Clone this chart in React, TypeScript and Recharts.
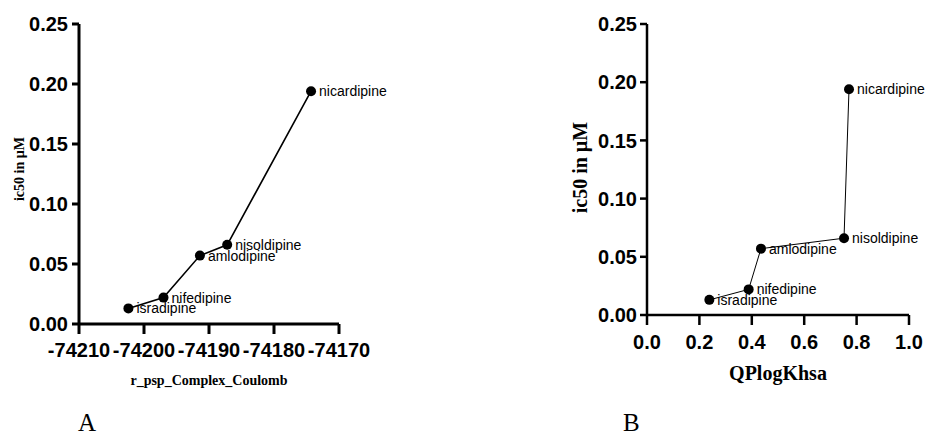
import React from 'react';
import { ScatterChart, Scatter, XAxis, YAxis, LabelList } from 'recharts';

// drug names, shared by both panels
const drugs = ['isradipine', 'nifedipine', 'amlodipine', 'nisoldipine', 'nicardipine'];
const ic50 = [0.013, 0.022, 0.057, 0.066, 0.194];
const coulomb = [-74202.4, -74197.0, -74191.4, -74187.2, -74174.3];
const qplogkhsa = [0.238, 0.388, 0.435, 0.752, 0.771];

const yTicks = [0, 0.05, 0.1, 0.15, 0.2, 0.25];
const coulombTicks = [-74210, -74200, -74190, -74180, -74170];
const khsaTicks = [0, 0.2, 0.4, 0.6, 0.8, 1.0];

const dataA = drugs.map((name, i) => ({ name, x: coulomb[i], y: ic50[i] }));
const dataB = drugs.map((name, i) => ({ name, x: qplogkhsa[i], y: ic50[i] }));

const tickFont = {
  fontFamily: '"Liberation Sans", Arial, sans-serif',
  fontSize: 20,
  fontWeight: 700,
  fill: '#000',
};
const serif = '"Liberation Serif", "Times New Roman", serif';

// name to the right of each dot, vertically centred on it
const pointLabel = (props: any) => {
  const { viewBox, value } = props;
  const cx = viewBox.x + viewBox.width / 2;
  const cy = viewBox.y + viewBox.height / 2;
  return (
    <text
      x={cx + 8}
      y={cy}
      dy="0.36em"
      fontFamily='"Liberation Sans", Arial, sans-serif'
      fontSize={14}
      fill="#000"
    >
      {value}
    </text>
  );
};

const dot = (props: any) => <circle cx={props.cx} cy={props.cy} r={5} fill="#000" />;

export default function App() {
  return (
    <div style={{ position: 'absolute', left: 0, top: 0, width: 925, height: 436, overflow: 'hidden', background: '#fff' }}>
      {/* Panel A */}
      <div style={{ position: 'absolute', left: 0, top: 0 }}>
        <ScatterChart width={460} height={436} margin={{ top: 24, right: 121, bottom: 52, left: 0 }} style={{ overflow: 'visible' }}>
          <XAxis
            type="number"
            dataKey="x"
            domain={[-74210, -74170]}
            ticks={coulombTicks}
            height={60}
            tick={tickFont}
            tickSize={10}
            tickMargin={9}
            axisLine={{ stroke: '#000', strokeWidth: 3 }}
            tickLine={{ stroke: '#000', strokeWidth: 3 }}
            label={{
              content: (p: any) => (
                <text x={p.viewBox.x + p.viewBox.width / 2} y={p.viewBox.y + 61} textAnchor="middle" fontFamily={serif} fontWeight={700} fontSize={14}>
                  r_psp_Complex_Coulomb
                </text>
              ),
            }}
          />
          <YAxis
            type="number"
            dataKey="y"
            domain={[0, 0.25]}
            ticks={yTicks}
            width={79}
            tick={tickFont}
            tickFormatter={(v: number) => v.toFixed(2)}
            tickSize={7}
            tickMargin={4}
            axisLine={{ stroke: '#000', strokeWidth: 3 }}
            tickLine={{ stroke: '#000', strokeWidth: 3 }}
            label={{
              content: (p: any) => {
                const cx = 19;
                const cy = p.viewBox.y + p.viewBox.height / 2 - 5;
                return (
                  <text x={cx} y={cy} transform={`rotate(-90 ${cx} ${cy})`} textAnchor="middle" dy="0.35em" fontFamily={serif} fontWeight={700} fontSize={14}>
                    ic50 in µM
                  </text>
                );
              },
            }}
          />
          <Scatter data={dataA} fill="#000" line={{ stroke: '#000', strokeWidth: 1.6 }} shape={dot} isAnimationActive={false}>
            <LabelList dataKey="name" content={pointLabel} />
          </Scatter>
        </ScatterChart>
      </div>

      {/* Panel B */}
      <div style={{ position: 'absolute', left: 467, top: 0 }}>
        <ScatterChart width={458} height={436} margin={{ top: 24, right: 16, bottom: 61, left: 0 }} style={{ overflow: 'visible' }}>
          <XAxis
            type="number"
            dataKey="x"
            domain={[0, 1]}
            ticks={khsaTicks}
            height={60}
            tick={tickFont}
            tickFormatter={(v: number) => v.toFixed(1)}
            tickSize={10}
            tickMargin={10}
            axisLine={{ stroke: '#000', strokeWidth: 2.5 }}
            tickLine={{ stroke: '#000', strokeWidth: 2.5 }}
            label={{
              content: (p: any) => (
                <text x={p.viewBox.x + p.viewBox.width / 2} y={p.viewBox.y + 65} textAnchor="middle" fontFamily={serif} fontWeight={700} fontSize={20}>
                  QPlogKhsa
                </text>
              ),
            }}
          />
          <YAxis
            type="number"
            dataKey="y"
            domain={[0, 0.25]}
            ticks={yTicks}
            width={180}
            tick={tickFont}
            tickFormatter={(v: number) => v.toFixed(2)}
            tickSize={7}
            tickMargin={3}
            axisLine={{ stroke: '#000', strokeWidth: 2.5 }}
            tickLine={{ stroke: '#000', strokeWidth: 2.5 }}
            label={{
              content: (p: any) => {
                const cx = 113;
                const cy = p.viewBox.y + p.viewBox.height / 2 - 2;
                return (
                  <text x={cx} y={cy} transform={`rotate(-90 ${cx} ${cy})`} textAnchor="middle" dy="0.35em" fontFamily={serif} fontWeight={700} fontSize={20}>
                    ic50 in µM
                  </text>
                );
              },
            }}
          />
          <Scatter data={dataB} fill="#000" line={{ stroke: '#000', strokeWidth: 1 }} shape={dot} isAnimationActive={false}>
            <LabelList dataKey="name" content={pointLabel} />
          </Scatter>
        </ScatterChart>
      </div>

      {/* panel letters */}
      <svg width={925} height={436} style={{ position: 'absolute', left: 0, top: 0, pointerEvents: 'none' }}>
        <text x={78} y={431} fontFamily={serif} fontSize={25}>A</text>
        <text x={623} y={431} fontFamily={serif} fontSize={25}>B</text>
      </svg>
    </div>
  );
}
